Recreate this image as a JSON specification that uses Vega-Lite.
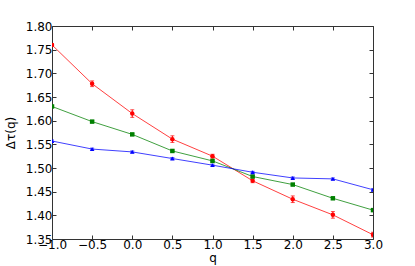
{
  "$schema": "https://vega.github.io/schema/vega-lite/v6.json",
  "width": 321,
  "height": 213,
  "autosize": {"type": "none"},
  "padding": {"left": 52, "top": 26, "right": 42, "bottom": 27},
  "config": {
    "view": {"stroke": "#333", "strokeWidth": 1},
    "font": "DejaVu Sans",
    "axis": {
      "labelFont": "DejaVu Sans", "labelFontSize": 12, "labelColor": "#000",
      "titleFont": "DejaVu Sans", "titleFontSize": 12, "titleFontWeight": "normal", "titleColor": "#000",
      "grid": false, "domain": false, "tickSize": -4, "tickColor": "#333", "labelPadding": 4,
      "labelFlush": false, "labelOverlap": false
    }
  },
  "data": {"values": [
    {"q": -1.0, "v": 1.760, "e": 0.003, "s": "r"},
    {"q": -0.5, "v": 1.678, "e": 0.006, "s": "r"},
    {"q": 0.0, "v": 1.615, "e": 0.008, "s": "r"},
    {"q": 0.5, "v": 1.561, "e": 0.007, "s": "r"},
    {"q": 1.0, "v": 1.525, "e": 0.004, "s": "r"},
    {"q": 1.5, "v": 1.473, "e": 0.004, "s": "r"},
    {"q": 2.0, "v": 1.434, "e": 0.007, "s": "r"},
    {"q": 2.5, "v": 1.401, "e": 0.007, "s": "r"},
    {"q": 3.0, "v": 1.359, "e": 0.005, "s": "r"},
    {"q": -1.0, "v": 1.630, "e": 0.002, "s": "g"},
    {"q": -0.5, "v": 1.598, "e": 0.002, "s": "g"},
    {"q": 0.0, "v": 1.571, "e": 0.002, "s": "g"},
    {"q": 0.5, "v": 1.536, "e": 0.002, "s": "g"},
    {"q": 1.0, "v": 1.515, "e": 0.002, "s": "g"},
    {"q": 1.5, "v": 1.482, "e": 0.002, "s": "g"},
    {"q": 2.0, "v": 1.465, "e": 0.002, "s": "g"},
    {"q": 2.5, "v": 1.436, "e": 0.002, "s": "g"},
    {"q": 3.0, "v": 1.411, "e": 0.002, "s": "g"},
    {"q": -1.0, "v": 1.557, "e": 0.002, "s": "b"},
    {"q": -0.5, "v": 1.540, "e": 0.002, "s": "b"},
    {"q": 0.0, "v": 1.534, "e": 0.002, "s": "b"},
    {"q": 0.5, "v": 1.520, "e": 0.002, "s": "b"},
    {"q": 1.0, "v": 1.506, "e": 0.002, "s": "b"},
    {"q": 1.5, "v": 1.491, "e": 0.002, "s": "b"},
    {"q": 2.0, "v": 1.479, "e": 0.002, "s": "b"},
    {"q": 2.5, "v": 1.477, "e": 0.002, "s": "b"},
    {"q": 3.0, "v": 1.454, "e": 0.002, "s": "b"}
  ]},
  "resolve": {"axis": {"x": "independent", "y": "independent"}},
  "layer": [
    {
      "mark": {"type": "line", "strokeWidth": 1, "opacity": 0.75, "clip": true},
      "encoding": {
        "x": {"field": "q", "type": "quantitative", "scale": {"domain": [-1, 3], "nice": false},
              "axis": {"values": [-1, -0.5, 0, 0.5, 1, 1.5, 2, 2.5, 3], "format": ".1f", "title": "q", "titlePadding": 2}},
        "y": {"field": "v", "type": "quantitative", "scale": {"domain": [1.35, 1.8], "nice": false, "zero": false},
              "axis": {"values": [1.35, 1.4, 1.45, 1.5, 1.55, 1.6, 1.65, 1.7, 1.75, 1.8], "format": ".2f", "title": "Δτ(q)", "titlePadding": 8}},
        "color": {"field": "s", "type": "nominal", "scale": {"domain": ["r", "g", "b"], "range": ["#ff0000", "#008000", "#0000ff"]}, "legend": null}
      }
    },
    {
      "mark": {"type": "errorbar", "ticks": {"size": 4}, "clip": true},
      "encoding": {
        "x": {"field": "q", "type": "quantitative", "axis": {"orient": "top", "labels": false, "title": null, "values": [-1, -0.5, 0, 0.5, 1, 1.5, 2, 2.5, 3]}},
        "y": {"field": "v", "type": "quantitative", "axis": {"orient": "right", "labels": false, "title": null, "values": [1.35, 1.4, 1.45, 1.5, 1.55, 1.6, 1.65, 1.7, 1.75, 1.8]}},
        "yError": {"field": "e"},
        "color": {"field": "s", "type": "nominal", "legend": null}
      }
    },
    {
      "mark": {"type": "point", "filled": true, "size": 20, "opacity": 1, "clip": true},
      "encoding": {
        "x": {"field": "q", "type": "quantitative", "axis": null},
        "y": {"field": "v", "type": "quantitative", "axis": null},
        "shape": {"field": "s", "type": "nominal", "scale": {"domain": ["r", "g", "b"], "range": ["circle", "square", "triangle-up"]}, "legend": null},
        "color": {"field": "s", "type": "nominal", "scale": {"domain": ["r", "g", "b"], "range": ["#b00000", "#006000", "#0000b0"]}, "legend": null}
      }
    }
  ]
}
